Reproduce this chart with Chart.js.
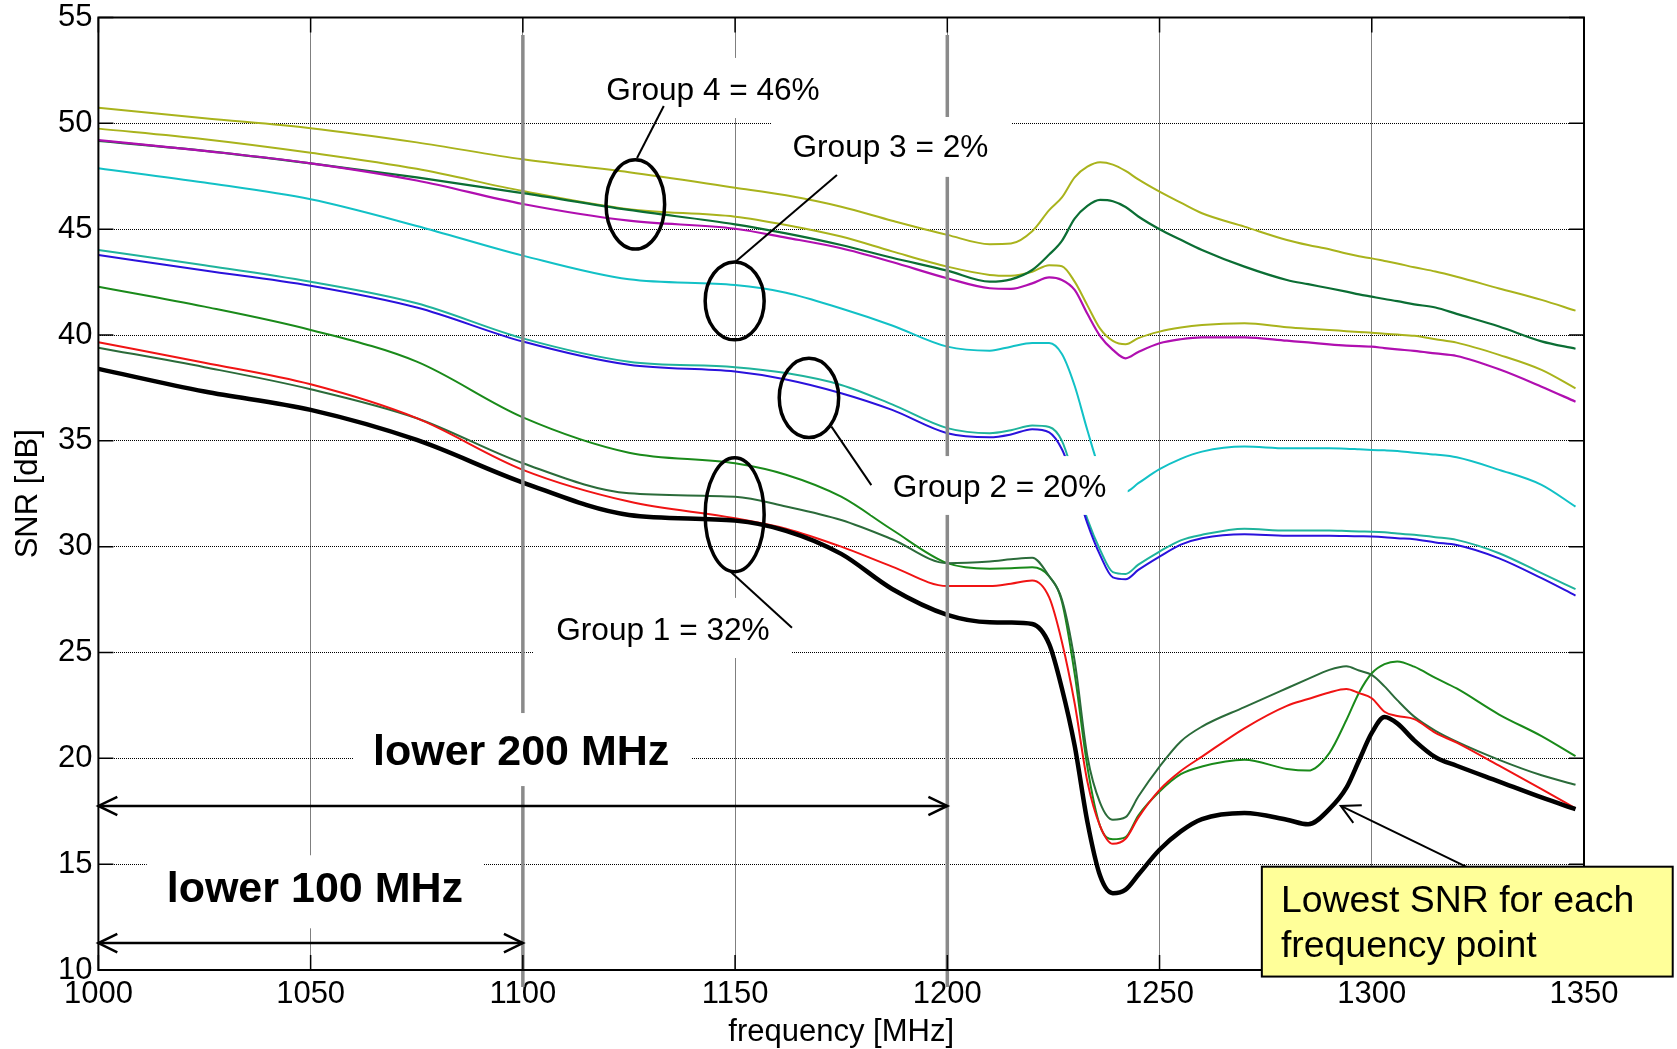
<!DOCTYPE html>
<html>
<head>
<meta charset="utf-8">
<script src="https://cdn.jsdelivr.net/npm/chart.js@4.4.1/dist/chart.umd.min.js"></script>
<style>
html,body{margin:0;padding:0;background:#fff;}
canvas{display:block;}
</style>
</head>
<body>
<canvas id="c" width="1677" height="1049"></canvas>
<script>
// ---------- data ----------
const freq = [1000,1025,1050,1075,1100,1125,1150,1162,1175,1187,1200,1210,1215,1220,1224,1227,1230,1233,1236,1239,1242,1245,1250,1255,1260,1270,1280,1285,1290,1294,1297,1300,1303,1306,1310,1315,1320,1330,1340,1348];

const snrLowest = [38.40,37.33,36.46,35.04,33.03,31.50,31.23,30.75,29.66,28.0,26.78,26.43,26.42,26.35,25.4,23.3,20.6,17.0,14.45,13.63,13.8,14.5,15.68,16.55,17.13,17.42,17.1,16.88,17.6,18.6,19.9,21.2,21.95,21.65,20.85,20.05,19.65,18.9,18.15,17.6];

const g1Red = [39.66,38.69,37.67,36.07,33.63,32.13,31.34,30.85,30.0,29.06,28.14,28.14,28.25,28.4,27.6,25.5,22.6,18.9,16.8,15.96,16.2,17.2,18.51,19.4,20.08,21.42,22.48,22.8,23.11,23.27,23.08,22.84,22.2,22.0,21.85,21.2,20.74,19.65,18.55,17.64];
const g1DarkGreen = [39.40,38.48,37.44,36.07,33.94,32.52,32.36,31.9,31.26,30.35,29.22,29.30,29.4,29.48,28.6,27.5,24.6,20.1,17.9,17.1,17.22,18.2,19.61,20.8,21.50,22.42,23.31,23.75,24.18,24.35,24.15,23.94,23.4,22.75,21.97,21.3,20.79,19.93,19.2,18.75];
const g1Green = [42.28,41.34,40.24,38.74,36.11,34.44,33.94,33.4,32.36,30.8,29.22,28.96,28.98,29.03,28.6,27.4,24.0,19.6,16.8,16.18,16.28,17.3,18.43,19.25,19.61,19.93,19.5,19.42,20.25,21.8,23.1,24.02,24.45,24.58,24.33,23.8,23.3,22.07,21.05,20.1];

const g2Blue = [43.78,43.05,42.33,41.3,39.69,38.59,38.27,37.9,37.25,36.46,35.36,35.17,35.3,35.55,35.4,34.6,33.0,31.1,29.6,28.55,28.46,28.9,29.53,30.1,30.40,30.59,30.52,30.52,30.52,30.5,30.49,30.48,30.45,30.4,30.35,30.2,30.08,29.45,28.51,27.69];
const g2Teal = [44.02,43.3,42.52,41.5,39.84,38.74,38.48,38.2,37.64,36.72,35.60,35.36,35.5,35.72,35.65,35.0,33.2,31.3,29.85,28.8,28.71,29.15,29.77,30.3,30.56,30.85,30.76,30.76,30.76,30.74,30.72,30.71,30.68,30.62,30.56,30.45,30.32,29.69,28.75,27.99];

const g3Cyan = [47.88,47.2,46.41,45.15,43.75,42.63,42.36,42.0,41.25,40.45,39.45,39.26,39.45,39.62,39.62,39.1,37.6,35.5,33.6,32.7,32.6,33.0,33.66,34.15,34.49,34.73,34.65,34.65,34.65,34.63,34.6,34.57,34.55,34.52,34.44,34.35,34.22,33.63,32.92,31.89];

const g4Magenta = [49.21,48.7,48.11,47.3,46.19,45.40,45.02,44.6,44.10,43.45,42.68,42.21,42.18,42.44,42.72,42.6,42.13,41.0,39.95,39.3,38.9,39.2,39.61,39.8,39.89,39.89,39.73,39.65,39.56,39.5,39.47,39.45,39.38,39.32,39.25,39.13,39.01,38.38,37.56,36.85];
const g4DarkGreen = [49.17,48.7,48.11,47.45,46.70,45.91,45.23,44.8,44.25,43.65,43.04,42.52,42.63,43.07,43.8,44.45,45.5,46.1,46.38,46.32,46.05,45.6,45.0,44.5,44.02,43.23,42.60,42.4,42.21,42.05,41.92,41.81,41.7,41.6,41.45,41.3,41.0,40.4,39.7,39.35];
const g4OliveLow = [49.75,49.25,48.61,47.85,46.80,45.94,45.59,45.2,44.65,43.95,43.23,42.84,42.80,42.99,43.30,43.25,42.52,41.4,40.3,39.72,39.56,39.85,40.16,40.35,40.47,40.55,40.37,40.3,40.24,40.18,40.14,40.11,40.06,40.02,39.96,39.8,39.64,39.06,38.35,37.48];
const g4OliveTop = [50.74,50.24,49.77,49.1,48.30,47.69,46.96,46.6,46.06,45.4,44.73,44.29,44.32,44.9,45.9,46.5,47.45,47.95,48.16,48.05,47.75,47.35,46.77,46.25,45.75,45.12,44.49,44.25,44.05,43.85,43.72,43.62,43.5,43.38,43.2,43.0,42.75,42.2,41.66,41.15];

const xTickValues = [1000,1050,1100,1150,1200,1250,1300,1350];
const yTickValues = [10,15,20,25,30,35,40,45,50,55];
const bandEdges = [1100,1200];

// ---------- chart ----------
const FONT = '"Liberation Sans", Arial, Helvetica, sans-serif';
const pts = arr => arr.map((v,i)=>({x:freq[i], y:v}));
const ds = (data, color, w) => ({data: pts(data), borderColor: color, borderWidth: w, pointRadius: 0, fill: false, cubicInterpolationMode: 'monotone'});

const datasets = [
  ds(snrLowest, '#000000', 4.5),
  ds(g1Red, '#f01414', 2),
  ds(g1DarkGreen, '#2b6b3a', 2),
  ds(g1Green, '#1a8a1a', 2),
  ds(g2Blue, '#2a12dc', 2),
  ds(g2Teal, '#1fb39c', 2),
  ds(g3Cyan, '#12c1c6', 2),
  ds(g4Magenta, '#b00fb0', 2.2),
  ds(g4DarkGreen, '#0b6e34', 2.2),
  ds(g4OliveLow, '#a9b31c', 2),
  ds(g4OliveTop, '#a9b31c', 2)
];

function arrowHead(ctx, tx, ty, fx, fy, len, ang) {
  const a = Math.atan2(fy - ty, fx - tx);
  ctx.beginPath();
  ctx.moveTo(tx + len*Math.cos(a+ang), ty + len*Math.sin(a+ang));
  ctx.lineTo(tx, ty);
  ctx.lineTo(tx + len*Math.cos(a-ang), ty + len*Math.sin(a-ang));
  ctx.stroke();
}

const annotations = {
  id: 'annotations',
  afterDatasetsDraw(chart) {
    const {ctx, chartArea: ca, scales: {x, y}} = chart;
    const px = v => x.getPixelForValue(v), py = v => y.getPixelForValue(v);
    ctx.save();

    // grey band-edge lines
    ctx.strokeStyle = '#8a8a8a'; ctx.lineWidth = 3.5;
    bandEdges.forEach(f => { ctx.beginPath(); ctx.moveTo(px(f), py(54.17)); ctx.lineTo(px(f), py(9.2)); ctx.stroke(); });

    // frame
    ctx.strokeStyle = '#000'; ctx.lineWidth = 2;
    ctx.strokeRect(ca.left, ca.top, ca.right - ca.left, ca.bottom - ca.top);
    // inward ticks
    ctx.lineWidth = 1.5;
    const TL = 15;
    xTickValues.forEach(v => {
      const X = px(v);
      ctx.beginPath(); ctx.moveTo(X, ca.bottom); ctx.lineTo(X, ca.bottom - TL);
      ctx.moveTo(X, ca.top); ctx.lineTo(X, ca.top + TL); ctx.stroke();
    });
    yTickValues.forEach(v => {
      const Y = py(v);
      ctx.beginPath(); ctx.moveTo(ca.left, Y); ctx.lineTo(ca.left + TL, Y);
      ctx.moveTo(ca.right, Y); ctx.lineTo(ca.right - TL, Y); ctx.stroke();
    });

    // white label boxes
    const box = (x1, x2, y1, y2) => { ctx.fillStyle = '#fff'; ctx.fillRect(px(x1), py(y1), px(x2)-px(x1), py(y2)-py(y1)); };
    box(1114.4, 1175.2, 53.09, 50.25);   // Group 4
    box(1158.7, 1215.0, 50.30, 47.47);   // Group 3
    box(1182.0, 1242.5, 34.28, 31.50);   // Group 2
    box(1102.6, 1163.4, 27.58, 24.74);   // Group 1
    box(1060.2, 1139.6, 22.14, 18.69);   // lower 200
    box(1011.4, 1090.8, 15.42, 11.97);   // lower 100

    // group texts
    ctx.fillStyle = '#000'; ctx.textAlign = 'center'; ctx.textBaseline = 'alphabetic';
    ctx.font = '31.6px ' + FONT;
    ctx.fillText('Group 4 = 46%', px(1144.8), py(51.10));
    ctx.fillText('Group 3 = 2%', px(1186.6), py(48.41));
    ctx.fillText('Group 2 = 20%', px(1212.3), py(32.35));
    ctx.fillText('Group 1 = 32%', px(1133.0), py(25.59));

    // ellipses
    ctx.strokeStyle = '#000'; ctx.lineWidth = 3.5;
    const ell = (cx, cy, rx, ry) => {
      ctx.beginPath();
      ctx.ellipse(px(cx), py(cy), px(cx+rx)-px(cx), py(cy-ry)-py(cy), 0, 0, Math.PI*2);
      ctx.stroke();
    };
    ell(1126.5, 46.17, 6.9, 2.11);
    ell(1149.9, 41.61, 6.95, 1.84);
    ell(1167.4, 37.03, 7.0, 1.87);
    ell(1149.9, 31.51, 6.95, 2.69);

    // leader lines
    ctx.lineWidth = 2;
    const seg = (a, b, c, d) => { ctx.beginPath(); ctx.moveTo(px(a), py(b)); ctx.lineTo(px(c), py(d)); ctx.stroke(); };
    seg(1126.9, 48.36, 1133.2, 50.82);
    seg(1150.1, 43.46, 1174.0, 47.56);
    seg(1172.7, 35.67, 1182.1, 32.91);
    seg(1148.5, 28.9, 1163.4, 26.17);

    // band labels
    ctx.font = 'bold 43px ' + FONT;
    ctx.fillText('lower 200 MHz', px(1099.6), py(19.69));
    ctx.fillText('lower 100 MHz', px(1051.0), py(13.22));

    // double arrows
    ctx.lineWidth = 2.5;
    const dbl = (f1, f2, v) => {
      const X1 = px(f1), X2 = px(f2), Y = py(v);
      ctx.beginPath(); ctx.moveTo(X1, Y); ctx.lineTo(X2, Y); ctx.stroke();
      arrowHead(ctx, X1, Y, X2, Y, 21, 0.45);
      arrowHead(ctx, X2, Y, X1, Y, 21, 0.45);
    };
    dbl(1000, 1200, 17.75);
    dbl(1000, 1100, 11.27);

    // pointer to lowest curve
    ctx.lineWidth = 2;
    seg(1322.2, 14.88, 1292.7, 17.75);
    arrowHead(ctx, px(1292.7), py(17.75), px(1322.2), py(14.88), 21, 0.48);

    // yellow note
    const bx1 = px(1274.1), by1 = py(14.88), bx2 = px(1370.9), by2 = py(9.69);
    ctx.fillStyle = '#ffff99';
    ctx.fillRect(bx1, by1, bx2 - bx1, by2 - by1);
    ctx.strokeStyle = '#000'; ctx.lineWidth = 2;
    ctx.strokeRect(bx1, by1, bx2 - bx1, by2 - by1);
    ctx.fillStyle = '#000'; ctx.textAlign = 'left';
    ctx.font = '37.4px ' + FONT;
    ctx.fillText('Lowest SNR for each', px(1278.6), py(12.76));
    ctx.fillText('frequency point', px(1278.6), py(10.63));

    ctx.restore();
  }
};

new Chart(document.getElementById('c'), {
  type: 'line',
  data: { datasets },
  options: {
    responsive: false,
    animation: false,
    devicePixelRatio: 1,
    layout: { padding: { top: 17.5, right: 93, left: 0, bottom: 0 } },
    plugins: { legend: { display: false }, tooltip: { enabled: false } },
    scales: {
      x: {
        type: 'linear', min: 1000, max: 1350,
        afterBuildTicks: s => { s.ticks = xTickValues.map(v => ({value: v})); },
        afterFit: s => { s.height = 79; s.paddingLeft = 0; s.paddingRight = 0; },
        ticks: { autoSkip: false, maxRotation: 0, padding: 6, color: '#000', font: { family: FONT, size: 31 }, callback: v => String(v) },
        grid: { color: '#000', lineWidth: 1, drawTicks: false },
        border: { display: false, dash: [1, 1] },
        title: { display: true, text: 'frequency [MHz]', color: '#000', font: { family: FONT, size: 31 }, padding: { top: 0, bottom: -2 } }
      },
      y: {
        type: 'linear', min: 10, max: 55,
        afterBuildTicks: s => { s.ticks = yTickValues.map(v => ({value: v})); },
        afterFit: s => { s.width = 98.4; s.paddingTop = 0; s.paddingBottom = 0; },
        ticks: { padding: 6, color: '#000', font: { family: FONT, size: 31 }, callback: v => String(v) },
        grid: { color: '#000', lineWidth: 1, drawTicks: false },
        border: { display: false, dash: [1, 1] },
        title: { display: true, text: 'SNR [dB]', color: '#000', font: { family: FONT, size: 31 }, padding: { top: 9.5, bottom: 0 } }
      }
    }
  },
  plugins: [annotations]
});
</script>
</body>
</html>
